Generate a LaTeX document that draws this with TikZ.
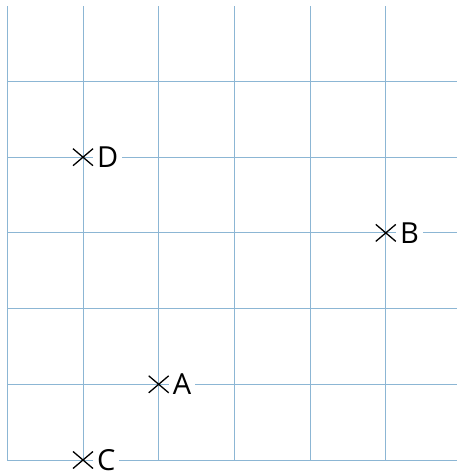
\documentclass[tikz,border=0pt]{standalone}
\usepackage{fontspec}
\setmainfont{Open Sans}
\definecolor{gridblue}{RGB}{140,182,212}
\begin{document}
\begin{tikzpicture}[x=75.7pt,y=75.7pt,
  gridline/.style={draw=gridblue,line width=0.8pt},
  crossline/.style={draw=black,line width=1.3pt},
  ptlabel/.style={anchor=west,fill=white,inner xsep=4pt,inner ysep=2pt,
    font=\fontsize{29}{29}\selectfont}]
\useasboundingbox (-1.0964,-0.1717) rectangle (4.9406,6.0766);
% grid
\foreach \x in {-1,...,4} \draw[gridline] (\x,0) -- (\x,6);
\foreach \y in {0,...,5} \draw[gridline] (-1,\y) -- (4.9406,\y);
% points
\coordinate (A) at (1,1);
\coordinate (B) at (4,3);
\coordinate (C) at (0,0);
\coordinate (D) at (0,4);
\foreach \p in {A,B,C,D}{
  \node[ptlabel] (lab\p) at ([xshift=10pt]\p) {\p};
  \draw[crossline] ([shift={(-10pt,-8.5pt)}]\p) -- ([shift={(10pt,8.5pt)}]\p);
  \draw[crossline] ([shift={(-10pt,8.5pt)}]\p) -- ([shift={(10pt,-8.5pt)}]\p);
}
\end{tikzpicture}
\end{document}
